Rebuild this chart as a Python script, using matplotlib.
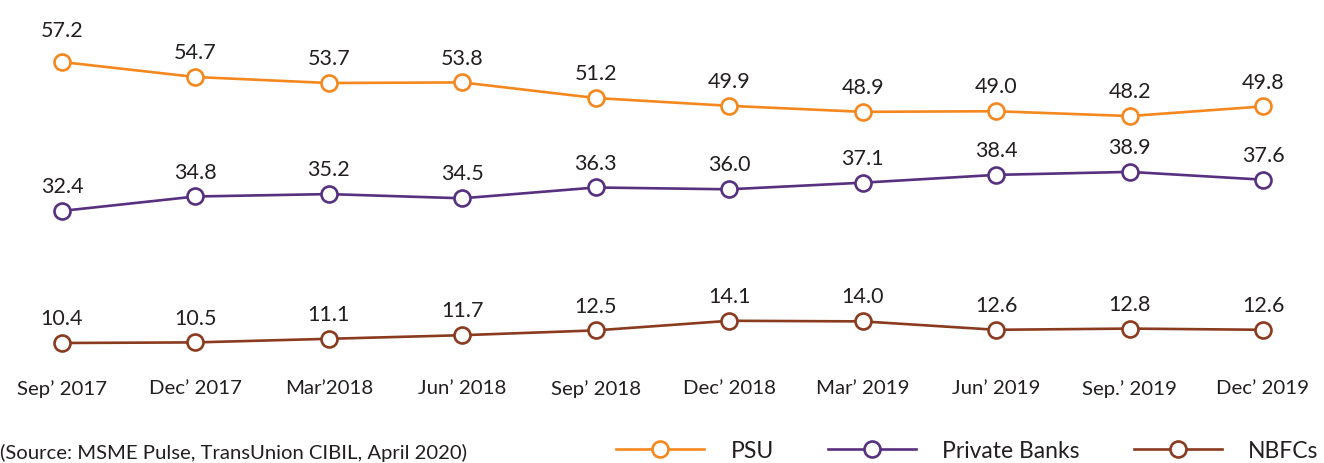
import matplotlib
matplotlib.use("Agg")
import matplotlib.pyplot as plt

quarters = ["Sep’ 2017", "Dec’ 2017", "Mar’2018", "Jun’ 2018", "Sep’ 2018",
            "Dec’ 2018", "Mar’ 2019", "Jun’ 2019", "Sep.’ 2019", "Dec’ 2019"]
psu = [57.2, 54.7, 53.7, 53.8, 51.2, 49.9, 48.9, 49.0, 48.2, 49.8]
private_banks = [32.4, 34.8, 35.2, 34.5, 36.3, 36.0, 37.1, 38.4, 38.9, 37.6]
nbfcs = [10.4, 10.5, 11.1, 11.7, 12.5, 14.1, 14.0, 12.6, 12.8, 12.6]

series = [("PSU", psu, "#F5871F"),
          ("Private Banks", private_banks, "#57307F"),
          ("NBFCs", nbfcs, "#8A3A1E")]

plt.rcParams['font.family'] = ['Lato', 'DejaVu Sans']
text_color = "#231F20"

W, H = 1324, 463
fig = plt.figure(figsize=(W / 100, H / 100), dpi=100)
ax = fig.add_axes([62 / W, 1 - 343 / H, (1263 - 62) / W, (343 - 62) / H])

x = list(range(len(quarters)))
for name, vals, color in series:
    ax.plot(x, vals, color=color, lw=1.9, marker='o', markersize=11.5,
            markerfacecolor='white', markeredgecolor=color, markeredgewidth=1.9,
            label=name, clip_on=False, zorder=3)
    for xi, v in zip(x, vals):
        # first PSU label sits a bit higher in the original
        dy = 15 if (name == "PSU" and xi == 0) else 10
        ax.annotate(f"{v:.1f}", (xi, v), xytext=(0, dy), textcoords='offset points',
                    ha='center', va='bottom', fontsize=15.5, color=text_color)

ax.set_xlim(0, len(quarters) - 1)
ax.set_ylim(min(nbfcs), max(psu))
ax.set_xticks(x)
ax.set_xticklabels(quarters, fontsize=14.7, color=text_color)
ax.tick_params(axis='x', length=0, pad=27)
ax.set_yticks([])
for s in ax.spines.values():
    s.set_visible(False)

fig.text(0.0, 1 - 453 / H, "(Source: MSME Pulse, TransUnion CIBIL, April 2020)",
         fontsize=14.6, color=text_color, ha='left', va='center')

fig.legend(loc='center left', bbox_to_anchor=(616 / W, 1 - 451 / H), ncol=3,
           frameon=False, fontsize=16.5, handlelength=3.85, handletextpad=1.15,
           columnspacing=2.35, borderpad=0, borderaxespad=0, labelcolor=text_color)

fig.savefig("out.png", dpi=100)
